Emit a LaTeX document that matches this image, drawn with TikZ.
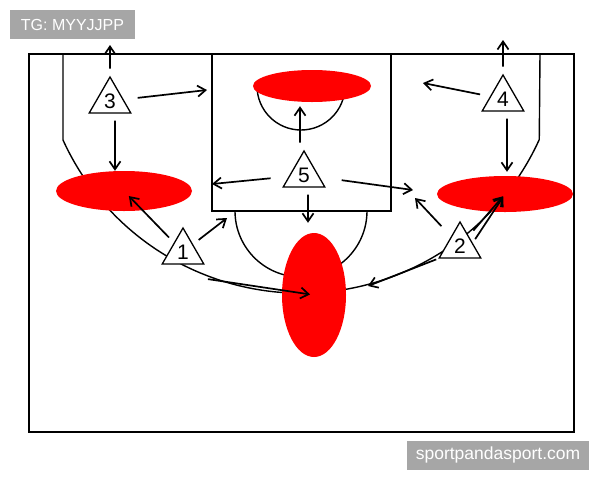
\documentclass[tikz,border=0pt]{standalone}
\usepackage{fontspec}
\setmainfont{Liberation Sans}
\usetikzlibrary{shapes.geometric,arrows.meta}
\definecolor{tagbg}{RGB}{166,166,166}
\definecolor{spotred}{RGB}{255,0,0}
\begin{document}
\begin{tikzpicture}[x=1pt,y=-1pt,
 plyr/.style={shape=regular polygon,regular polygon sides=3,draw=black,fill=white,line width=1.3pt,minimum size=48pt,inner sep=0pt,font=\fontsize{21}{21}\selectfont},
 spot/.style={shape=ellipse,fill=spotred,draw=none,inner sep=0pt},
 mv/.style={line width=1.7pt,-{Straight Barb[length=8pt,width=11pt]},shorten <=7pt},
 crt/.style={line width=1.4pt},
 tag/.style={fill=tagbg,text=white,inner sep=0pt,minimum height=29pt}]
 \useasboundingbox (0,0) rectangle (600,480);
 \draw[crt] (29,54) rectangle (574,432);
 \draw[crt] (212,54) rectangle (391,211);
 \draw[crt] (63,54) -- (63,140) arc[start angle=155.5,end angle=24.4,radius=261.6] -- (540,54);
 \draw[crt] (235,211) arc[start angle=180,end angle=0,radius=66];
 \draw[crt] (257,86) arc[start angle=180,end angle=0,radius=44];
 \node (spot top) at (312,86) [spot,minimum width=118pt,minimum height=32pt] {};
 \node (spot left) at (124,191) [spot,minimum width=136pt,minimum height=40pt] {};
 \node (spot right) at (505,194) [spot,minimum width=136pt,minimum height=36pt] {};
 \node (spot mid) at (314,295) [spot,minimum width=64pt,minimum height=124pt] {};
 \node (plyr 1) at (183,252) [plyr] {1};
 \node (plyr 2) at (460,246) [plyr] {2};
 \node (plyr 3) at (110,101) [plyr] {3};
 \node (plyr 4) at (503,99) [plyr] {4};
 \node (plyr 5) at (304,175) [plyr] {5};
 \coordinate (gl 3u) at (110,45);
 \coordinate (gl 3r) at (207,90);
 \coordinate (gl 4u) at (503,40);
 \coordinate (gl 4l) at (423,83);
 \coordinate (gl 5l) at (212,184);
 \coordinate (gl 5r) at (413,190);
 \coordinate (gl 1r) at (227,218);
 \coordinate (gl 2l) at (415,198);
 \coordinate (gl 2m) at (368,286);
 \draw[mv] (plyr 3) -- (gl 3u);
 \draw[mv,shorten <=14pt] (plyr 3) -- (gl 3r);
 \draw[mv] ([xshift=5pt]plyr 3.south) -- ([xshift=-9pt]spot left.north);
 \draw[mv] (plyr 4) -- (gl 4u);
 \draw[mv,shorten <=10pt] (plyr 4) -- (gl 4l);
 \draw[mv,shorten >=4pt] ([xshift=4pt]plyr 4.south) -- ([xshift=2pt]spot right.north);
 \draw[mv,shorten >=4pt] ([xshift=-4pt]plyr 5.north) -- ([xshift=-12pt]spot top.south);
 \draw[mv,shorten <=18pt] (plyr 5) -- (gl 5l);
 \draw[mv,shorten <=22pt] (plyr 5) -- (gl 5r);
 \draw[mv,shorten >=10pt] ([xshift=4pt]plyr 5.south) -- ([xshift=-6pt]spot mid.north);
 \draw[mv,shorten >=7pt] (plyr 1) -- (spot left.center);
 \draw[mv] (plyr 1) -- (gl 1r);
 \draw[mv,shorten <=3pt,shorten >=4pt] ([yshift=-14pt]plyr 1.corner 3) -- (spot mid.center);
 \draw[mv,shorten <=14pt] (plyr 2) -- (gl 2l);
 \draw[mv,shorten >=3pt] (plyr 2) -- (spot right.center);
 \draw[mv,shorten <=13pt,shorten >=3pt] ([shift={(8pt,-4pt)}]plyr 2.center) -- (spot right.center);
 \draw[mv,shorten <=2pt] (plyr 2.corner 2) -- (gl 2m);
 \node (tag tg) at (72.5,24.5) [tag,minimum width=125pt,font=\fontsize{16}{16}\selectfont] {TG: MYYJJPP};
 \node (tag site) at (498,455) [tag,minimum width=182pt,font=\fontsize{17.5}{17.5}\selectfont] {sportpandasport.com};
\end{tikzpicture}
\end{document}
